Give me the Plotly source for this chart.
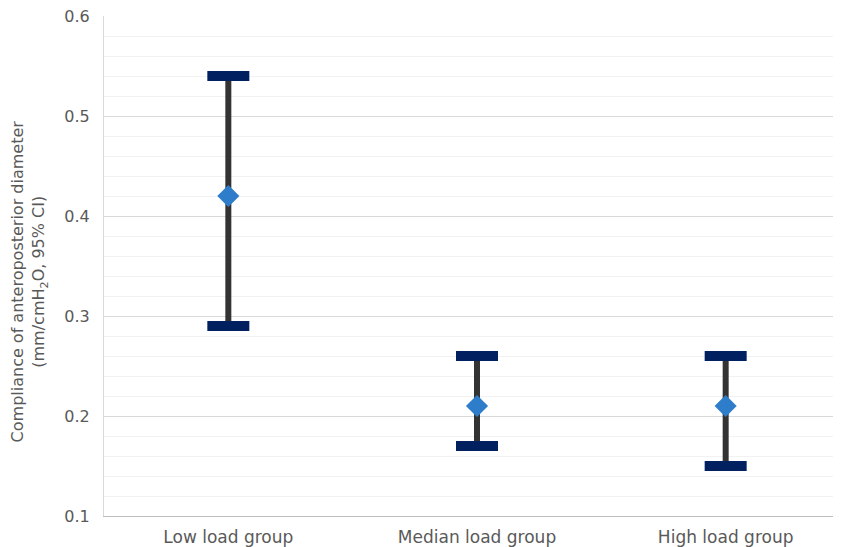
import plotly.graph_objects as go

categories = ["Low load group", "Median load group", "High load group"]
means = [0.42, 0.21, 0.21]
upper = [0.54, 0.26, 0.26]
lower = [0.29, 0.17, 0.15]

err_plus = [u - m for u, m in zip(upper, means)]
err_minus = [m - l for m, l in zip(means, lower)]

fig = go.Figure()

# stems
fig.add_trace(go.Scatter(
    x=categories, y=means, mode="markers",
    marker=dict(size=1, color="rgba(0,0,0,0)"),
    error_y=dict(type="data", symmetric=False, array=err_plus, arrayminus=err_minus,
                 color="#333333", thickness=6, width=0),
    hoverinfo="skip", showlegend=False,
))
# caps
for ys in (upper, lower):
    fig.add_trace(go.Scatter(
        x=categories, y=ys, mode="markers",
        marker=dict(symbol="line-ew", size=30, line=dict(width=10, color="#002060")),
        showlegend=False,
    ))
# mean markers
fig.add_trace(go.Scatter(
    x=categories, y=means, mode="markers",
    marker=dict(symbol="diamond", size=17, color="#2E7DCB", line=dict(width=0)),
    showlegend=False,
))

fig.update_layout(
    width=842, height=539,
    margin=dict(l=96, r=0, t=8, b=31),
    plot_bgcolor="white", paper_bgcolor="white",
    font=dict(family="DejaVu Sans, sans-serif", size=15, color="#595959"),
    xaxis=dict(range=[-0.5, 2.5], showgrid=False, showline=True, linecolor="#bfbfbf",
               linewidth=1, ticks="", automargin=False, tickfont=dict(size=17),
               ticklabelstandoff=6, ticklabeloverflow="allow"),
    yaxis=dict(range=[0.1, 0.6], dtick=0.1, tickformat=".1f", showgrid=True,
               gridcolor="#d9d9d9", gridwidth=1, showline=True, linecolor="#d9d9d9",
               zeroline=False, ticks="", ticklabelstandoff=10, automargin=False,
               tickfont=dict(size=16), ticklabeloverflow="allow",
               minor=dict(dtick=0.02, showgrid=True, gridcolor="#f2f2f2", gridwidth=1)),
    annotations=[dict(
        text="Compliance of anteroposterior diameter<br>(mm/cmH<sub>2</sub>O, 95% CI)",
        xref="paper", yref="paper", x=-0.1, y=0.47, xanchor="center", yanchor="middle",
        textangle=-90, showarrow=False, font=dict(size=16, color="#595959"),
    )],
)

fig.write_html("out.html")
